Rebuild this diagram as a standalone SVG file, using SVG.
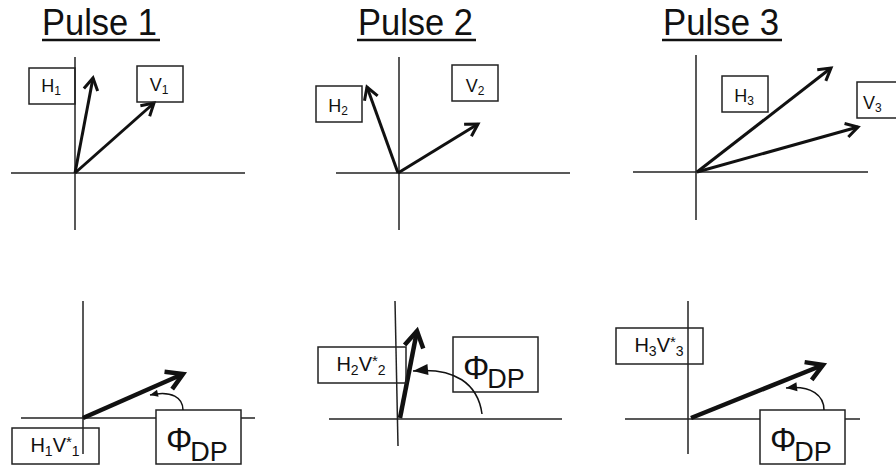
<svg xmlns="http://www.w3.org/2000/svg" width="896" height="468" viewBox="0 0 896 468">
<style>
  text { font-family: "Liberation Sans", Arial, sans-serif; fill: #111; }
  .title { font-size: 36px; }
  .ul { stroke: #111; stroke-width: 2.5; }
  .axis { stroke: #222; stroke-width: 1.5; fill: none; }
  .box { stroke: #222; stroke-width: 1.5; fill: none; }
  .pbox { stroke: #222; stroke-width: 1.5; fill: #fff; }
  .lbl { font-size: 18px; }
  .lbl2 { font-size: 20px; }
  .arr { stroke: #111; stroke-width: 3; fill: none; marker-end: url(#chev); }
  .arrb { stroke: #111; stroke-width: 4.5; fill: none; marker-end: url(#chevL); }
  .crv { stroke: #111; stroke-width: 1.5; fill: none; }
</style>
<defs>
  <marker id="chev" markerUnits="userSpaceOnUse" viewBox="-16 -10 20 20" refX="0" refY="0" markerWidth="20" markerHeight="20" orient="auto" overflow="visible">
    <path d="M-12,-7 L0,0 L-12,7" fill="none" stroke="#111" stroke-width="3"/>
  </marker>
  <marker id="chevL" markerUnits="userSpaceOnUse" viewBox="-20 -12 24 24" refX="0" refY="0" markerWidth="24" markerHeight="24" orient="auto" overflow="visible">
    <path d="M-16,-9.5 L0,0 L-16,9.5" fill="none" stroke="#111" stroke-width="4.5"/>
  </marker>
  <marker id="triS" markerUnits="userSpaceOnUse" viewBox="-10 -5 12 10" refX="0" refY="0" markerWidth="12" markerHeight="10" orient="auto" overflow="visible">
    <path d="M-8,-3.5 L0,0 L-8,3.5 Z" fill="#111"/>
  </marker>
  <marker id="triM" markerUnits="userSpaceOnUse" viewBox="-13 -6 15 12" refX="0" refY="0" markerWidth="15" markerHeight="12" orient="auto" overflow="visible">
    <path d="M-11,-4.5 L0,0 L-11,4.5 Z" fill="#111"/>
  </marker>
  <marker id="triL" markerUnits="userSpaceOnUse" viewBox="-17 -7 19 14" refX="0" refY="0" markerWidth="19" markerHeight="14" orient="auto" overflow="visible">
    <path d="M-15,-5.5 L0,0 L-15,5.5 Z" fill="#111"/>
  </marker>
</defs>
<rect width="896" height="468" fill="#fff"/>

<g id="titles">
  <text class="title" x="42" y="35" textLength="115" lengthAdjust="spacingAndGlyphs">Pulse 1</text>
  <line class="ul" x1="42" y1="40" x2="160" y2="40"/>
  <text class="title" x="358" y="35" textLength="115" lengthAdjust="spacingAndGlyphs">Pulse 2</text>
  <line class="ul" x1="357" y1="40" x2="476" y2="40"/>
  <text class="title" x="663" y="35" textLength="116" lengthAdjust="spacingAndGlyphs">Pulse 3</text>
  <line class="ul" x1="662" y1="40" x2="782" y2="40"/>
</g>

<g id="axes">
  <line class="axis" x1="75" y1="57" x2="75" y2="230"/>
  <line class="axis" x1="11" y1="173" x2="245" y2="173"/>
  <line class="axis" x1="399" y1="57" x2="399" y2="230"/>
  <line class="axis" x1="336" y1="173" x2="570" y2="173"/>
  <line class="axis" x1="696" y1="55" x2="696" y2="220"/>
  <line class="axis" x1="633" y1="172" x2="868" y2="172"/>
  <line class="axis" x1="83" y1="301" x2="83" y2="454"/>
  <line class="axis" x1="21" y1="418" x2="255" y2="418"/>
  <line class="axis" x1="395" y1="301" x2="398" y2="446"/>
  <line class="axis" x1="329" y1="419" x2="562" y2="419"/>
  <line class="axis" x1="688" y1="301" x2="688" y2="454"/>
  <line class="axis" x1="625" y1="419" x2="860" y2="419"/>
</g>

<g id="phi1">
  <rect class="pbox" x="156" y="410" width="85" height="54"/>
  <text x="166" y="451" font-size="33">Φ<tspan font-size="27" dy="10" dx="-2">DP</tspan></text>
</g>
<g id="phi2">
  <rect class="pbox" x="453" y="337" width="85" height="55"/>
  <text x="463" y="379" font-size="33">Φ<tspan font-size="27" dy="9" dx="-2">DP</tspan></text>
</g>
<g id="phi3">
  <rect class="pbox" x="760" y="410" width="85" height="54"/>
  <text x="770" y="451" font-size="33">Φ<tspan font-size="27" dy="10" dx="-2">DP</tspan></text>
</g>

<g id="connectors">
  <line class="arr" x1="75" y1="173" x2="93" y2="78"/>
  <line class="arr" x1="75" y1="173" x2="154" y2="103"/>
  <line class="arr" x1="398" y1="173" x2="367" y2="87"/>
  <line class="arr" x1="398" y1="173" x2="478" y2="124"/>
  <line class="arr" x1="697" y1="172" x2="831" y2="68"/>
  <line class="arr" x1="697" y1="172" x2="858" y2="127"/>
  <line class="arrb" x1="83" y1="418" x2="183" y2="374"/>
  <line class="arrb" x1="400" y1="418" x2="417" y2="331"/>
  <line class="arrb" x1="691" y1="418" x2="823" y2="365"/>
  <path class="crv" d="M183,410 C183,398 172,390 150,395" marker-end="url(#triS)"/>
  <path class="crv" d="M482,414 C478,384 455,367 413,371" marker-end="url(#triL)"/>
  <path class="crv" d="M824,410 C824,396 812,385 786,388" marker-end="url(#triM)"/>
</g>

<g id="H1">
  <rect class="box" x="29" y="68" width="46" height="36"/>
  <text class="lbl" x="51" y="92" text-anchor="middle">H<tspan font-size="12" dy="3">1</tspan></text>
</g>
<g id="V1">
  <rect class="box" x="137" y="66" width="46" height="36"/>
  <text class="lbl" x="159" y="91" text-anchor="middle">V<tspan font-size="12" dy="3">1</tspan></text>
</g>
<g id="H2">
  <rect class="box" x="316" y="86" width="46" height="36"/>
  <text class="lbl" x="338" y="112" text-anchor="middle">H<tspan font-size="12" dy="3">2</tspan></text>
</g>
<g id="V2">
  <rect class="box" x="452" y="65" width="46" height="36"/>
  <text class="lbl" x="475" y="92" text-anchor="middle">V<tspan font-size="12" dy="3">2</tspan></text>
</g>
<g id="H3">
  <rect class="box" x="722" y="76" width="46" height="36"/>
  <text class="lbl" x="744" y="102" text-anchor="middle">H<tspan font-size="12" dy="3">3</tspan></text>
</g>
<g id="V3">
  <rect class="box" x="857" y="82" width="46" height="36"/>
  <text class="lbl" x="863" y="109">V<tspan font-size="12" dy="3">3</tspan></text>
</g>

<g id="H1V1">
  <rect class="box" x="12" y="428" width="87" height="36"/>
  <text class="lbl2" x="55" y="452" text-anchor="middle">H<tspan font-size="14" dy="4">1</tspan><tspan dy="-4">V</tspan><tspan font-size="15" dy="-5">*</tspan><tspan font-size="14" dy="9">1</tspan></text>
</g>
<g id="H2V2">
  <rect class="box" x="318" y="347" width="88" height="36"/>
  <text class="lbl2" x="361" y="371" text-anchor="middle">H<tspan font-size="14" dy="4">2</tspan><tspan dy="-4">V</tspan><tspan font-size="15" dy="-5">*</tspan><tspan font-size="14" dy="9">2</tspan></text>
</g>
<g id="H3V3">
  <rect class="box" x="616" y="328" width="87" height="36"/>
  <text class="lbl2" x="659" y="352" text-anchor="middle">H<tspan font-size="14" dy="4">3</tspan><tspan dy="-4">V</tspan><tspan font-size="15" dy="-5">*</tspan><tspan font-size="14" dy="9">3</tspan></text>
</g>
</svg>
